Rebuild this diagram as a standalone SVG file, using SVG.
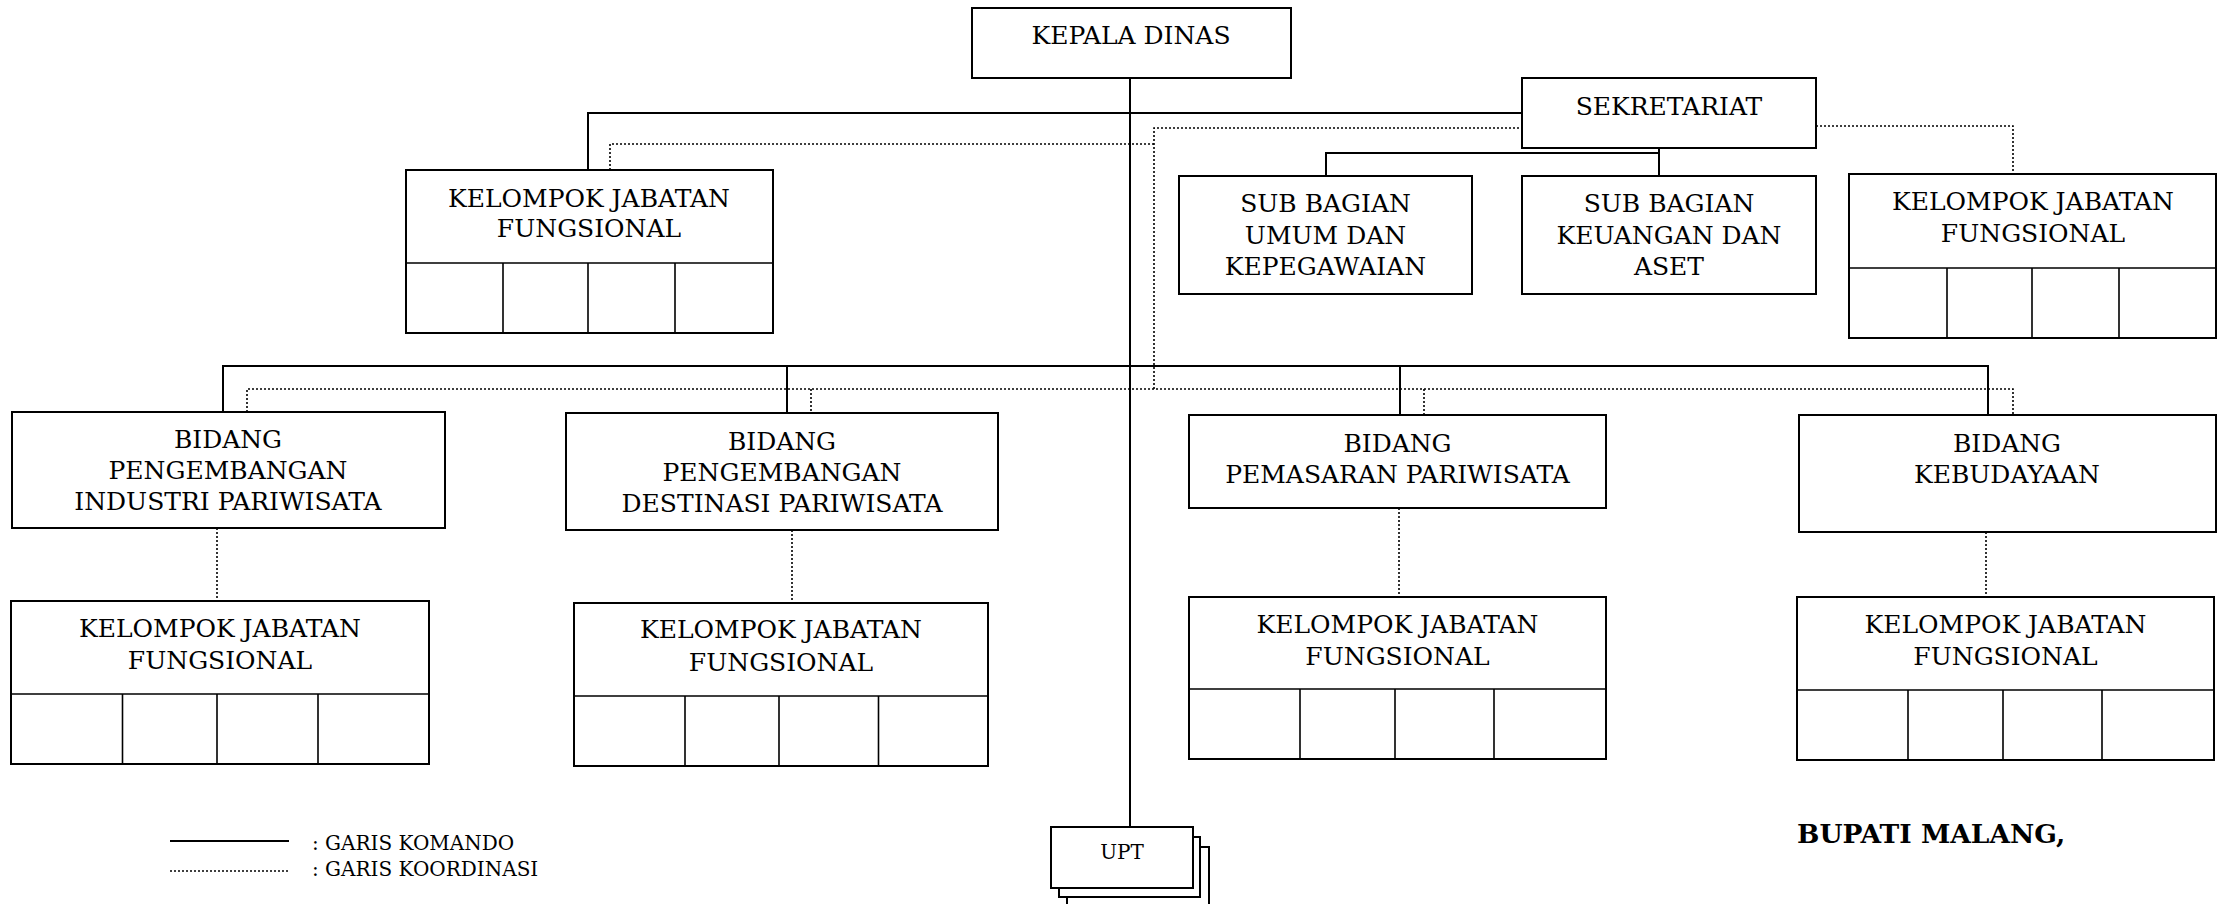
<svg xmlns="http://www.w3.org/2000/svg" width="2220" height="904" viewBox="0 0 2220 904">
<style>
.box{fill:#fff;stroke:#000;stroke-width:2}
.div{fill:none;stroke:#000;stroke-width:1.6}
.cmd{fill:none;stroke:#000;stroke-width:2}
.crd{fill:none;stroke:#000;stroke-width:1.6;stroke-dasharray:2 2}
text{font-family:"DejaVu Serif","Liberation Serif",serif;font-size:25px;text-anchor:middle;fill:#000}
.lg{font-size:20px;text-anchor:start}
.upt{font-size:20px}
.sig{font-size:26.5px;font-weight:bold;text-anchor:start}
</style>
<rect width="2220" height="904" fill="#fff"/>
<g id="connectors">
<path class="cmd" d="M1130 78V827"/>
<path class="cmd" d="M588 170V113H1522"/>
<path class="cmd" d="M1659 148V176M1326 176V153H1659"/>
<path class="cmd" d="M223 412V366H1988V415M787 366V413M1400 366V415"/>
<path class="crd" d="M610 170V144H1154"/>
<path class="crd" d="M1154 389V128H1522"/>
<path class="crd" d="M1816 126H2013V174"/>
<path class="crd" d="M247 412V389H2013V415M811 389V413M1424 389V415"/>
<path class="crd" d="M217 528V601M792 530V603M1399 508V597M1986 532V597"/>
</g>
<g id="kepala-dinas"><rect class="box" x="972" y="8" width="319" height="70"/><text x="1131" y="44">KEPALA DINAS</text></g>
<g id="sekretariat"><rect class="box" x="1522" y="78" width="294" height="70"/><text x="1669" y="115">SEKRETARIAT</text></g>
<g id="subbag-umum"><rect class="box" x="1179" y="176" width="293" height="118"/><text x="1325.5" y="212">SUB BAGIAN</text><text x="1325.5" y="243.5">UMUM DAN</text><text x="1325.5" y="275">KEPEGAWAIAN</text></g>
<g id="subbag-keuangan"><rect class="box" x="1522" y="176" width="294" height="118"/><text x="1669" y="212">SUB BAGIAN</text><text x="1669" y="244">KEUANGAN DAN</text><text x="1669" y="275">ASET</text></g>
<g id="kjf-kadis"><rect class="box" x="406" y="170" width="367" height="163"/><path class="div" d="M406 263H773M503 263V333M588 263V333M675 263V333"/><text x="589" y="207">KELOMPOK JABATAN</text><text x="589" y="237">FUNGSIONAL</text></g>
<g id="kjf-sekretariat"><rect class="box" x="1849" y="174" width="367" height="164"/><path class="div" d="M1849 268H2216M1947 268V338M2032 268V338M2119 268V338"/><text x="2033" y="210">KELOMPOK JABATAN</text><text x="2033" y="242">FUNGSIONAL</text></g>
<g id="bidang-industri"><rect class="box" x="12" y="412" width="433" height="116"/><text x="228" y="448">BIDANG</text><text x="228" y="479">PENGEMBANGAN</text><text x="228" y="510">INDUSTRI PARIWISATA</text></g>
<g id="bidang-destinasi"><rect class="box" x="566" y="413" width="432" height="117"/><text x="782" y="450">BIDANG</text><text x="782" y="481">PENGEMBANGAN</text><text x="782" y="512">DESTINASI PARIWISATA</text></g>
<g id="bidang-pemasaran"><rect class="box" x="1189" y="415" width="417" height="93"/><text x="1397.5" y="452">BIDANG</text><text x="1397.5" y="483">PEMASARAN PARIWISATA</text></g>
<g id="bidang-kebudayaan"><rect class="box" x="1799" y="415" width="417" height="117"/><text x="2007" y="452">BIDANG</text><text x="2007" y="483">KEBUDAYAAN</text></g>
<g id="kjf-industri"><rect class="box" x="11" y="601" width="418" height="163"/><path class="div" d="M11 694H429M122.5 694V764M217 694V764M318 694V764"/><text x="220" y="637">KELOMPOK JABATAN</text><text x="220" y="669">FUNGSIONAL</text></g>
<g id="kjf-destinasi"><rect class="box" x="574" y="603" width="414" height="163"/><path class="div" d="M574 696H988M685 696V766M779 696V766M878.5 696V766"/><text x="781" y="638">KELOMPOK JABATAN</text><text x="781" y="671">FUNGSIONAL</text></g>
<g id="kjf-pemasaran"><rect class="box" x="1189" y="597" width="417" height="162"/><path class="div" d="M1189 689H1606M1300 689V759M1395 689V759M1494 689V759"/><text x="1397.5" y="633">KELOMPOK JABATAN</text><text x="1397.5" y="665">FUNGSIONAL</text></g>
<g id="kjf-kebudayaan"><rect class="box" x="1797" y="597" width="417" height="163"/><path class="div" d="M1797 690H2214M1908 690V760M2003 690V760M2102 690V760"/><text x="2005.5" y="633">KELOMPOK JABATAN</text><text x="2005.5" y="665">FUNGSIONAL</text></g>
<g id="upt"><rect class="box" x="1067" y="847" width="142" height="70"/><rect class="box" x="1059" y="837" width="141" height="60"/><rect class="box" x="1051" y="827" width="142" height="61"/><text class="upt" x="1122" y="859">UPT</text></g>
<g id="legend"><path class="cmd" d="M170 841H289"/><path class="crd" d="M170 871H289"/><text class="lg" x="312" y="850">: GARIS KOMANDO</text><text class="lg" x="312" y="876">: GARIS KOORDINASI</text></g>
<g id="signature"><text class="sig" x="1797" y="843">BUPATI MALANG,</text></g>
</svg>
